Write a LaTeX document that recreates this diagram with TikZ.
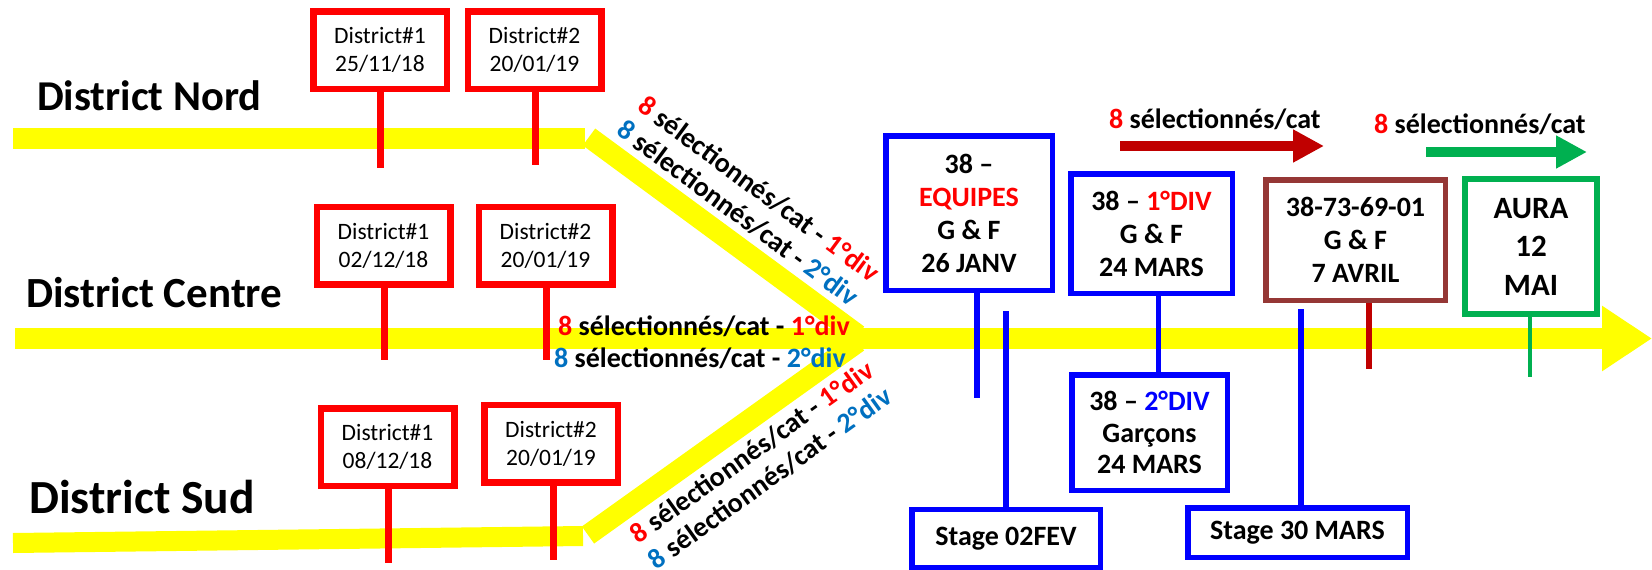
\documentclass[tikz,border=0pt]{standalone}
\usepackage{fontspec}
\setmainfont{Carlito}
\usetikzlibrary{arrows.meta}

\definecolor{jaune}{RGB}{255,255,0}
\definecolor{rouge}{RGB}{255,0,0}
\definecolor{bleu}{RGB}{0,0,255}
\definecolor{bleuclair}{RGB}{0,112,192}
\definecolor{bordeaux}{RGB}{192,0,0}
\definecolor{brun}{RGB}{149,55,53}
\definecolor{vert}{RGB}{0,176,80}

\newcommand{\huitun}{\textcolor{rouge}{8} sélectionnés/cat - \textcolor{rouge}{1°div}}
\newcommand{\huitdeux}{\textcolor{bleuclair}{8} sélectionnés/cat - \textcolor{bleuclair}{2°div}}

\tikzset{
  voie/.style={jaune, line width=21pt},
  seltext/.style={inner sep=0pt, font=\fontsize{28}{33}\selectfont\bfseries},
  rbox/.style={draw=rouge, fill=white, line width=6.5pt, inner sep=0pt, align=center,
    minimum width=133.5pt, minimum height=77.5pt, font=\fontsize{23.5}{28}\selectfont},
  rstick/.style={rouge, line width=7pt},
  bbox/.style={draw=bleu, fill=white, line width=5.5pt, inner sep=0pt, align=center,
    font=\fontsize{28}{33}\selectfont\bfseries},
  bstick/.style={bleu, line width=5.5pt},
  label/.style={inner sep=0pt, anchor=base west, font=\bfseries}
}

\begin{document}
\begin{tikzpicture}[x=1pt,y=-1pt]
  \useasboundingbox (0,0) rectangle (1652,570);

  % Yellow lines
  \draw[voie] (13,138.5) -- (585,138.5);
  \draw[voie] (589,137) -- (858,335);
  \draw[voie, line width=20pt] (13,543) -- (583,536);
  \draw[voie] (588,535) -- (858,342);
  \draw[voie, -{Triangle[length=50pt,width=62pt]}] (15,338.5) -- (1652,338.5);

  % District names
  \node[label, font=\fontsize{42.5}{42.5}\selectfont\bfseries] (lnord) at (37,110) {District Nord};
  \node[label, font=\fontsize{43}{43}\selectfont\bfseries] (lcentre) at (26,307) {District Centre};
  \node[label, font=\fontsize{47.5}{47.5}\selectfont\bfseries] (lsud) at (29,513) {District Sud};

  % District dates
  \node[rbox] (n1) at (380,50) {District\#1\\25/11/18};
  \node[rbox] (n2) at (534.5,50) {District\#2\\20/01/19};
  \node[rbox] (c1) at (383.5,245.5) {District\#1\\02/12/18};
  \node[rbox] (c2) at (545.5,245.5) {District\#2\\20/01/19};
  \node[rbox] (s1) at (387.5,447) {District\#1\\08/12/18};
  \node[rbox] (s2) at (551,443.5) {District\#2\\20/01/19};

  \coordinate (n1b) at (380.5,168);
  \coordinate (n2b) at (535.5,165);
  \coordinate (c1b) at (384,360);
  \coordinate (c2b) at (546,360);
  \coordinate (s1b) at (388,563);
  \coordinate (s2b) at (553,560);
  \draw[rstick] (n1b |- n1.south) -- (n1b);
  \draw[rstick] (n2b |- n2.south) -- (n2b);
  \draw[rstick] (c1b |- c1.south) -- (c1b);
  \draw[rstick] (c2b |- c2.south) -- (c2b);
  \draw[rstick] (s1b |- s1.south) -- (s1b);
  \draw[rstick] (s2b |- s2.south) -- (s2b);

  % Selections
  \node[seltext, rotate=-36.4] (nd1) at (759,189) {\huitun};
  \node[seltext, rotate=-36.4] (nd2) at (738,213) {\huitdeux};
  \node[seltext, anchor=base west] (cd1) at (558,335) {\huitun};
  \node[seltext, anchor=base west] (cd2) at (554,367) {\huitdeux};
  \node[seltext, rotate=35.6] (sd1) at (752,452) {\huitun};
  \node[seltext, rotate=35.6] (sd2) at (770,478) {\huitdeux};

  % Departement
  \node[bbox, minimum width=166.5pt, minimum height=154.5pt] (eq) at (969,213)
    {38 –\\\textcolor{rouge}{EQUIPES}\\G \& F\\26 JANV};
  \node[bbox, minimum width=161.5pt, minimum height=119.5pt] (div1) at (1151.5,233.5)
    {38 – \textcolor{rouge}{1°DIV}\\G \& F\\24 MARS};
  \node[bbox, minimum width=155.5pt, minimum height=115.5pt,
    font=\fontsize{28}{31.5}\selectfont\bfseries] (div2) at (1149.5,432.5)
    {38 – \textcolor{bleu}{2°DIV}\\Garçons\\24 MARS};
  \node[bbox, minimum width=188.5pt, minimum height=58.5pt] (st1) at (1006,538.5) {Stage 02FEV};
  \node[bbox, minimum width=219.5pt, minimum height=49.5pt] (st2) at (1297.5,532.5) {Stage 30 MARS};

  \coordinate (eqb) at (977,398);
  \coordinate (dvx) at (1158.5,0);
  \coordinate (st1t) at (1006,311);
  \coordinate (st2t) at (1301,309);
  \draw[bstick] (eqb |- eq.south) -- (eqb);
  \draw[bstick] (dvx |- div1.south) -- (dvx |- div2.north);
  \draw[bstick] (st1t |- st1.north) -- (st1t);
  \draw[bstick] (st2t |- st2.north) -- (st2t);

  % Region and AURA
  \node[bbox, draw=brun, minimum width=179.5pt, minimum height=120.5pt] (reg) at (1355.5,240)
    {38-73-69-01\\G \& F\\7 AVRIL};
  \node[bbox, draw=vert, line width=5.7pt, minimum width=132.5pt, minimum height=135.5pt,
    font=\fontsize{31}{38.5}\selectfont\bfseries] (aura) at (1531,246.5) {AURA\\12\\MAI};

  \coordinate (regb) at (1369,369);
  \coordinate (aurab) at (1530,377);
  \draw[bordeaux, line width=6pt] (regb |- reg.south) -- (regb);
  \draw[vert, line width=4.5pt] (aurab |- aura.south) -- (aurab);

  % Arrows to region and AURA
  \node[seltext, anchor=base west] (t1) at (1109,128) {\textcolor{rouge}{8} sélectionnés/cat};
  \node[seltext, anchor=base west] (t2) at (1374,133) {\textcolor{rouge}{8} sélectionnés/cat};
  \coordinate (r1) at (1120,146);
  \coordinate (r2) at (1324,146);
  \coordinate (v1) at (1426,152);
  \coordinate (v2) at (1587,152);
  \draw[bordeaux, line width=10pt, -{Triangle[length=31pt,width=31pt]}] (r1) -- (r2);
  \draw[vert, line width=10pt, -{Triangle[length=31pt,width=31pt]}] (v1) -- (v2);
\end{tikzpicture}
\end{document}
